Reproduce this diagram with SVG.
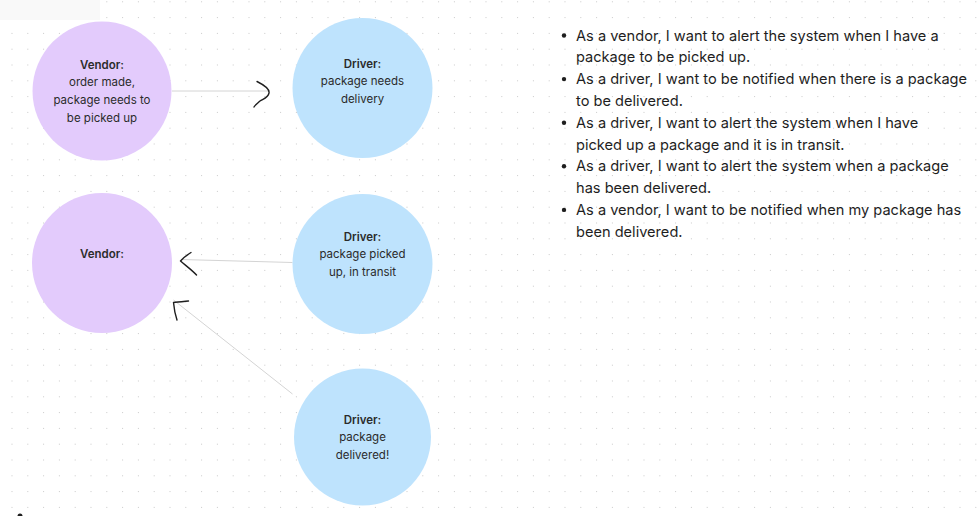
<svg xmlns="http://www.w3.org/2000/svg" width="978" height="516" viewBox="0 0 978 516">
<defs>
<pattern id="dots" x="11.5" y="1.3" width="15.8" height="15.8" patternUnits="userSpaceOnUse">
<rect x="0" y="0" width="1" height="1" fill="#c9c9c9"/>
</pattern>
<style>
.nt{font-family:Inter,"Noto Sans",sans-serif;font-size:11.5px;fill:#2b2b2b;text-anchor:middle}
.b{font-weight:600}
.vendor{fill:#e3cbfc}
.driver{fill:#bee3fd}
.line{stroke:#d4d4d4;stroke-width:1;fill:none}
.head{stroke:#1e1e1e;stroke-width:1.4;fill:none;stroke-linecap:round;stroke-linejoin:round}
.lt{font-family:Inter,"Noto Sans",sans-serif;font-size:14.6px;fill:#1e1e1e}
</style>
</defs>
<rect width="978" height="516" fill="#ffffff"/>
<rect width="978" height="516" fill="url(#dots)"/>
<rect x="0" y="0" width="100" height="20" fill="#f9f9f9"/>
<circle cx="20" cy="516" r="2.5" fill="#1e1e1e"/>

<g id="connectors">
<path class="line" d="M172,91 L268,91"/>
<path class="head" d="M257,81.5 C262,84 270,88 269,93 C268,98 263,99 260,101 C258,103 255,105 254,107"/>
<path class="line" d="M292.5,262.5 L181,259.5"/>
<path class="head" d="M191,252.5 C187,255 183,258 180.5,261 C185,265 192,270 196.5,275"/>
<path class="line" d="M292.5,394 L173.5,300"/>
<path class="head" d="M188.5,301 C183,301.5 177,302 173.5,302.5 C174,308 175,314 177,320"/>
</g>

<g id="vendor-order">
<circle class="vendor" cx="102" cy="91" r="69.5"/>
<text class="nt b" x="102" y="68.5">Vendor:</text>
<text class="nt" x="102" y="86.2">order made,</text>
<text class="nt" x="102" y="103.9">package needs to</text>
<text class="nt" x="102" y="121.6">be picked up</text>
</g>

<g id="driver-needs">
<circle class="driver" cx="362.5" cy="88" r="70"/>
<text class="nt b" x="362.5" y="67.5">Driver:</text>
<text class="nt" x="362.5" y="85.2">package needs</text>
<text class="nt" x="362.5" y="102.9">delivery</text>
</g>

<g id="vendor-2">
<circle class="vendor" cx="102" cy="263" r="70"/>
<text class="nt b" x="102" y="258">Vendor:</text>
</g>

<g id="driver-transit">
<circle class="driver" cx="362.5" cy="264" r="70"/>
<text class="nt b" x="362.5" y="240.5">Driver:</text>
<text class="nt" x="362.5" y="258.2">package picked</text>
<text class="nt" x="362.5" y="275.9">up, in transit</text>
</g>

<g id="driver-delivered">
<circle class="driver" cx="362.5" cy="437" r="68.5"/>
<text class="nt b" x="362.5" y="423.5">Driver:</text>
<text class="nt" x="362.5" y="441.2">package</text>
<text class="nt" x="362.5" y="458.9">delivered!</text>
</g>

<g id="stories">
<circle cx="564" cy="35.5" r="2.2" fill="#1e1e1e"/>
<circle cx="564" cy="79.1" r="2.2" fill="#1e1e1e"/>
<circle cx="564" cy="122.7" r="2.2" fill="#1e1e1e"/>
<circle cx="564" cy="166.3" r="2.2" fill="#1e1e1e"/>
<circle cx="564" cy="209.9" r="2.2" fill="#1e1e1e"/>
<text class="lt" x="576" y="40.5">As a vendor, I want to alert the system when I have a</text>
<text class="lt" x="576" y="62.3">package to be picked up.</text>
<text class="lt" x="576" y="84.1">As a driver, I want to be notified when there is a package</text>
<text class="lt" x="576" y="105.9">to be delivered.</text>
<text class="lt" x="576" y="127.7">As a driver, I want to alert the system when I have</text>
<text class="lt" x="576" y="149.5">picked up a package and it is in transit.</text>
<text class="lt" x="576" y="171.3">As a driver, I want to alert the system when a package</text>
<text class="lt" x="576" y="193.1">has been delivered.</text>
<text class="lt" x="576" y="214.9">As a vendor, I want to be notified when my package has</text>
<text class="lt" x="576" y="236.7">been delivered.</text>
</g>
</svg>
